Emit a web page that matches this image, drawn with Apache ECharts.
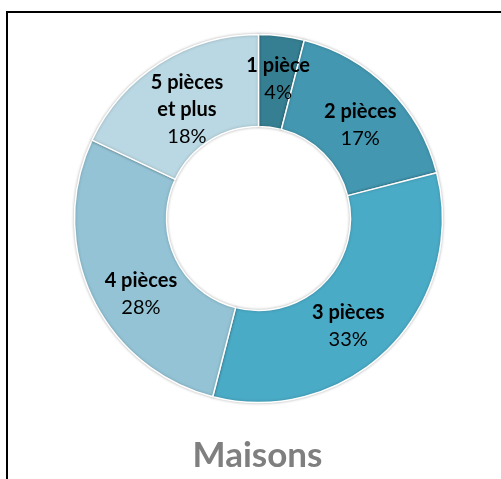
<!DOCTYPE html>
<html>
<head>
<meta charset="UTF-8">
<title>Maisons</title>
<script src="https://cdn.jsdelivr.net/npm/echarts@6/dist/echarts.min.js"></script>
<style>
    html, body { margin: 0; padding: 0; background: #fff; }
    #chart { width: 501px; height: 479px; }
</style>
</head>
<body>
<div id="chart"></div>
<script type="text/javascript">
    // donnees du graphique
    let categories = ['1 pièce', '2 pièces', '3 pièces', '4 pièces', '5 pièces\net plus'];
    let values = [4, 17, 33, 28, 18];
    let colors = ['#367f92', '#4397b0', '#4aabc6', '#93c3d5', '#bad8e3'];

    let chart = echarts.init(document.getElementById('chart'));

    // petits decalages des etiquettes (comme dans Excel)
    let labelShift = [[2, 0], [2, 6], [-10, 8], [10, 16], [4, 10]];

    let pieData = [];
    for (let i = 0; i < categories.length; i++) {
        pieData.push({
            name: categories[i],
            value: values[i],
            itemStyle: {color: colors[i]},
            label: {offset: labelShift[i]}
        });
    }

    let option = {
        backgroundColor: '#fff',
        animation: false,
        graphic: [
            {
                type: 'rect',
                shape: {x: 7, y: 12, width: 520, height: 500},
                style: {fill: 'none', stroke: '#000', lineWidth: 2}
            },
            {
                // titre du graphique
                type: 'text',
                x: 257.5,
                y: 473,
                style: {
                    text: 'Maisons',
                    textAlign: 'center',
                    textVerticalAlign: 'bottom',
                    fontFamily: 'Lato',
                    fontWeight: 'bold',
                    fontSize: 35,
                    fill: '#7f7f7f'
                }
            }
        ],
        series: [
            {
                type: 'pie',
                center: [258.5, 218.5],
                radius: [92, 184],
                startAngle: 90,
                clockwise: true,
                itemStyle: {
                    borderColor: '#fff',
                    borderWidth: 1.5,
                    shadowBlur: 3,
                    shadowColor: 'rgba(0,0,0,0.25)'
                },
                label: {
                    show: true,
                    position: 'inside',
                    formatter: function (p) {
                        let lines = p.name.split('\n').map(function (l) {
                            return '{n|' + l + '}';
                        });
                        return lines.join('\n') + '\n{p|' + p.value + '%}';
                    },
                    rich: {
                        n: {fontFamily: 'Lato', fontWeight: 'bold', fontSize: 20, color: '#000', lineHeight: 27},
                        p: {fontFamily: 'Lato', fontSize: 20, color: '#000', lineHeight: 27}
                    }
                },
                labelLine: {show: false},
                data: pieData
            }
        ]
    };
    chart.setOption(option);
</script>
</body>
</html>
